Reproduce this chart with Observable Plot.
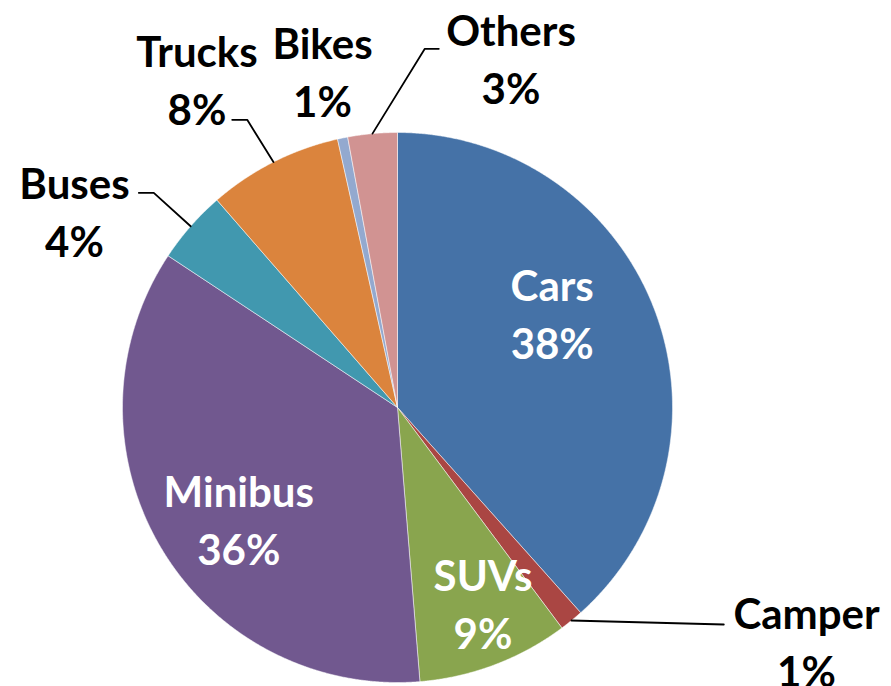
<!DOCTYPE html>
<html>
<head>
<meta charset="utf-8">
<script src="https://cdn.jsdelivr.net/npm/d3@7"></script>
<script src="https://cdn.jsdelivr.net/npm/@observablehq/plot@0.6"></script>
<style>
  html, body { margin: 0; padding: 0; background: #fff; }
  #chart svg { display: block; }
</style>
</head>
<body>
<div id="chart"></div>
<script>
// ---- data ----
const categories = ["Cars", "Camper", "SUVs", "Minibus", "Buses", "Trucks", "Bikes", "Others"];
const shares     = [38.4, 1.4, 8.9, 35.6, 4.3, 7.9, 0.6, 2.9];
const colors     = ["#4572A7", "#AA4643", "#89A54E", "#71588F", "#4198AF", "#DB843D", "#93A9CF", "#D19392"];

// ---- label placement (unit-circle coordinates, style only) ----
const labelX    = [0.5625, -0.5771, 0.3109, 1.4873, -1.1745, -0.7291, -0.2727, 0.4127];
const labelY    = [-0.3510, 0.4011, 0.7036, 0.8422, -0.7207, -1.1989, -1.2291, -1.2764];
const labelFor  = ["Cars", "Minibus", "SUVs", "Camper", "Buses", "Trucks", "Bikes", "Others"];
const insideSet = new Set(["Cars", "Minibus", "SUVs"]);
// leader lines: [elbowX, elbowY, endX, endY]
const leaderFor = ["Others", "Trucks", "Buses", "Camper"];
const leaderPts = [
  [0.0993, -1.3044, 0.1502, -1.3044],
  [-0.5465, -1.0462, -0.6011, -1.0462],
  [-0.8862, -0.7807, -0.9407, -0.7807],
  [1.1865, 0.7891, 1.1865, 0.7891]
];

// ---- build ----
const rows = categories.map((name, i) => ({name, value: shares[i]}));
const arcs = d3.pie().sort(null).value(d => d.value)(rows);
const arcByName = new Map(arcs.map(a => [a.data.name, a]));

const slicePts = arcs.flatMap(a => {
  const name = a.data.name;
  const n = Math.max(2, Math.ceil((a.endAngle - a.startAngle) / 0.004));
  const pts = [{name, x: 0, y: 0}];
  for (let i = 0; i <= n; i++) {
    const t = a.startAngle + (a.endAngle - a.startAngle) * i / n;
    pts.push({name, x: Math.sin(t), y: -Math.cos(t)});
  }
  pts.push({name, x: 0, y: 0});
  return pts;
});

const labelRows = labelFor.map((name, i) => ({
  name,
  x: labelX[i],
  y: labelY[i],
  text: name + "\n" + Math.round(arcByName.get(name).data.value) + "%",
  inside: insideSet.has(name)
}));

const leaderRows = leaderFor.flatMap((name, i) => {
  const a = arcByName.get(name);
  const m = (a.startAngle + a.endAngle) / 2;
  const [ex, ey, tx, ty] = leaderPts[i];
  return [
    {name, x: Math.sin(m), y: -Math.cos(m)},
    {name, x: ex, y: ey},
    {name, x: tx, y: ty}
  ];
});

const R = 275, CX = 397, CY = 407;
const fontSize = 42;

const chart = Plot.plot({
  width: 891,
  height: 686,
  margin: 0,
  x: {domain: [-1, 1], range: [CX - R, CX + R], axis: null},
  y: {domain: [-1, 1], range: [CY - R, CY + R], axis: null},
  color: {domain: categories, range: colors},
  style: {fontFamily: "Lato, 'Open Sans', sans-serif", background: "#fff"},
  marks: [
    Plot.line(slicePts, {x: "x", y: "y", z: "name", fill: "name", stroke: "#ffffff", strokeWidth: 0.5, curve: "linear"}),
    Plot.line(leaderRows, {x: "x", y: "y", z: "name", stroke: "#000", strokeWidth: 1.8, curve: "linear"}),
    Plot.text(labelRows, {
      x: "x", y: "y", text: "text",
      fill: d => d.inside ? "#ffffff" : "#000000",
      fontSize, fontWeight: "bold", lineHeight: 58 / fontSize,
      textAnchor: "middle"
    })
  ]
});
document.getElementById("chart").appendChild(chart);
</script>
</body>
</html>
